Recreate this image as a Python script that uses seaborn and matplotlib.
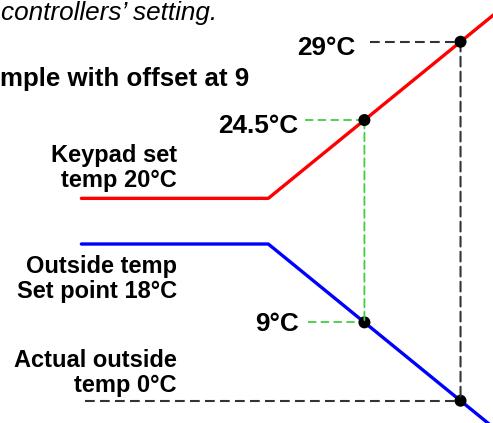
import matplotlib
matplotlib.use("Agg")
import matplotlib.pyplot as plt
from matplotlib.patches import ConnectionPatch
import seaborn as sns
import pandas as pd

# Outdoor temperature reset curve: actual outside temperature on the x axis
curve_x = [35.5, 18, -4]          # actual outside temperature (°C)
outside_curve = [18, 18, -4]      # outside temp, limited by the 18 °C set point
water_curve = [20, 20, 31]        # controller set temperature (keypad 20 °C, offset 9)

# Marked operating points
point_outside = [9, 0]            # actual outside temperature
point_outside_value = [9, 0]      # value on the outside-temp curve
point_water_value = [24.5, 29]    # value on the set-temp curve
point_labels_outside = ["9°C", "0°C"]
point_labels_water = ["24.5°C", "29°C"]

sns.set_theme(style="white")
plt.rcParams["font.family"] = ["Liberation Sans", "DejaVu Sans"]
plt.rcParams["lines.scale_dashes"] = False
plt.rcParams["text.color"] = "black"

W, H = 493, 423
fig = plt.figure(figsize=(W / 100, H / 100), dpi=100)
ax = fig.add_axes([0, 0, 1, 1])
ax2 = ax.twinx()

ax.set_xlim(43.12, -3.04)
ax.set_ylim(-2.56, 46.03)
ax2.set_ylim(7.09, 31.40)

curves = pd.DataFrame({"x": curve_x, "outside": outside_curve, "water": water_curve})

black_dash = dict(color="#333333", lw=1.5, linestyle=(0, (7, 3.8)))
green_dash = dict(color="#44cc44", lw=1.3, linestyle=(0, (6, 3.2)))

# guide lines
ax.plot([35.2, point_outside[1]], [point_outside_value[1]] * 2, **black_dash, zorder=1)
ax.plot([14.3, point_outside[0]], [point_outside_value[0]] * 2, **green_dash, zorder=1)
ax2.plot([8.5, point_outside[1]], [point_water_value[1]] * 2, **black_dash, zorder=1)
ax2.plot([14.55, point_outside[0]], [point_water_value[0]] * 2, **green_dash, zorder=1)
for i, style in ((0, green_dash), (1, black_dash)):
    cp = ConnectionPatch(xyA=(point_outside[i], point_water_value[i]), coordsA=ax2.transData,
                         xyB=(point_outside[i], point_outside_value[i]), coordsB=ax.transData,
                         **style, zorder=1)
    ax2.add_artist(cp)

# curves
sns.lineplot(data=curves, x="x", y="outside", ax=ax, color="#0000ff", lw=2.4, sort=False, zorder=3)
sns.lineplot(data=curves, x="x", y="water", ax=ax2, color="#ff0000", lw=2.4, sort=False, zorder=3)

# operating points
sns.scatterplot(x=point_outside, y=point_outside_value, ax=ax, color="black", s=75,
                edgecolor="none", zorder=5)
sns.scatterplot(x=point_outside, y=point_water_value, ax=ax2, color="black", s=75,
                edgecolor="none", zorder=5)
ax.set_axis_off()
ax2.set_axis_off()

# value labels
label_kw = dict(textcoords="offset pixels", ha="right", va="baseline",
                fontsize=18.8, fontweight="bold", color="black")
ax2.annotate(point_labels_water[1], (8.5, point_water_value[1]), xytext=(-14, -13), **label_kw)
ax2.annotate(point_labels_water[0], (14.55, point_water_value[0]), xytext=(-7, -12.5), **label_kw)
ax.annotate(point_labels_outside[0], (14.3, point_outside_value[0]), xytext=(-9, -9), **label_kw)


def px_text(x, y, s, **kw):
    fig.text(x / W, 1 - y / H, s, color="black", **kw)


side = dict(ha="right", va="baseline", multialignment="right", fontsize=17,
            fontweight="bold", linespacing=1.12)
px_text(177, 187, "Keypad set\ntemp 20°C", **side)
px_text(177, 298, "Outside temp\nSet point 18°C", **side)
px_text(177, 392, "Actual outside\ntemp 0°C", **side)

px_text(217, 20, "controllers’ setting.", ha="right", va="baseline", fontsize=18.8,
        fontstyle="italic")
px_text(249, 86, "mple with offset at 9", ha="right", va="baseline", fontsize=18.6,
        fontweight="bold")

fig.savefig("out.png", dpi=100)
